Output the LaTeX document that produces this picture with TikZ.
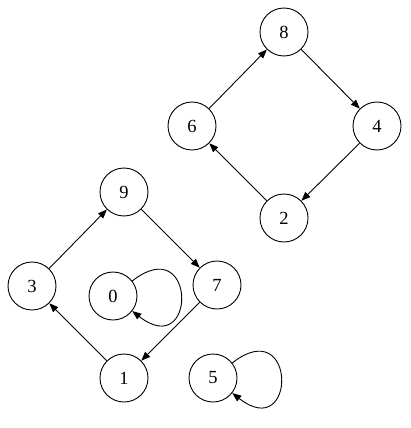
\documentclass[tikz,border=0pt]{standalone}
\usepackage{fontspec}
\setmainfont{Liberation Serif}
\usetikzlibrary{arrows.meta}

\tikzset{
    state/.style={draw, circle, line width=0.9pt, minimum size=48pt, inner sep=0pt,
        font=\fontsize{18.5}{20}\selectfont},
    link/.style={line width=0.9pt, -{Triangle[length=9pt,width=7pt]}},
    selfloop/.style={link, out=38, in=-38, looseness=7}
}

\begin{document}
\begin{tikzpicture}[x=1pt, y=-1pt]
    \useasboundingbox (0,0) rectangle (410,428);

    % Upper cycle
    \node[state] (n8) at (284,32) {8};
    \node[state] (n6) at (192,126) {6};
    \node[state] (n4) at (377,126) {4};
    \node[state] (n2) at (284,218) {2};

    % Lower cycle
    \node[state] (n9) at (124,192) {9};
    \node[state] (n3) at (32,286) {3};
    \node[state] (n7) at (217,285) {7};
    \node[state] (n1) at (124,378) {1};

    % Single nodes
    \node[state] (n0) at (113,296) {0};
    \node[state] (n5) at (213,378) {5};

    % Edges
    \draw[link] (n6) -- (n8);
    \draw[link] (n8) -- (n4);
    \draw[link] (n4) -- (n2);
    \draw[link] (n2) -- (n6);
    \draw[link] (n3) -- (n9);
    \draw[link] (n9) -- (n7);
    \draw[link] (n7) -- (n1);
    \draw[link] (n1) -- (n3);
    \draw[selfloop] (n0) to (n0);
    \draw[selfloop] (n5) to (n5);
\end{tikzpicture}
\end{document}
